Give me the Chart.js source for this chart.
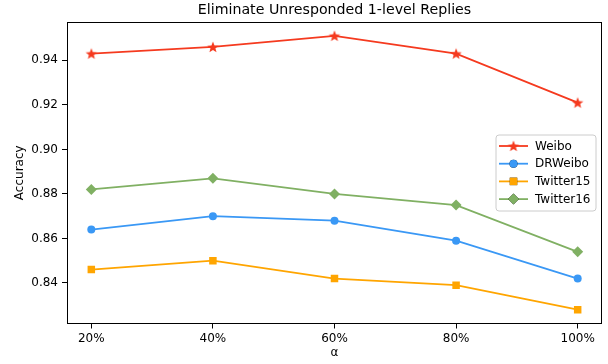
<!DOCTYPE html>
<html>
<head>
<meta charset="utf-8">
<script src="https://cdn.jsdelivr.net/npm/chart.js@4.4.1/dist/chart.umd.min.js"></script>
<style>
html,body{margin:0;padding:0;background:#fff;}
#wrap{width:608px;height:364px;position:relative;}
</style>
</head>
<body>
<div id="wrap"><canvas id="c" width="608" height="364"></canvas></div>
<script>
// ---- data ----
const categories = ['20%', '40%', '60%', '80%', '100%'];
const yTicks = [0.84, 0.86, 0.88, 0.90, 0.92, 0.94];
const weibo     = [0.943, 0.946, 0.951, 0.943, 0.921];
const drweibo   = [0.864, 0.870, 0.868, 0.859, 0.842];
const twitter15 = [0.846, 0.850, 0.842, 0.839, 0.828];
const twitter16 = [0.882, 0.887, 0.880, 0.875, 0.854];
const seriesNames = ['Weibo', 'DRWeibo', 'Twitter15', 'Twitter16'];

// ---- styling ----
const FONT = 'DejaVu Sans';
const colors = ['#f53a1f', '#3a98f5', '#ffa500', '#80b063'];

function makeStar(color) {
  const s = 14, c = document.createElement('canvas');
  c.width = s; c.height = s;
  const g = c.getContext('2d');
  const cx = s / 2, cy = s / 2 + 0.5, R = 6, r = 2.6;
  g.beginPath();
  for (let i = 0; i < 10; i++) {
    const a = -Math.PI / 2 + i * Math.PI / 5;
    const rad = i % 2 === 0 ? R : r;
    const x = cx + rad * Math.cos(a), y = cy + rad * Math.sin(a);
    i === 0 ? g.moveTo(x, y) : g.lineTo(x, y);
  }
  g.closePath();
  g.fillStyle = color; g.fill();
  return c;
}
const starImg = makeStar(colors[0]);
const pointStyles = [starImg, 'circle', 'rect', 'rectRot'];
const pointRadii = [6, 4, 5.3, 5.5];

const allSeries = [weibo, drweibo, twitter15, twitter16];
const datasets = allSeries.map((vals, k) => ({
  label: seriesNames[k],
  data: vals.map((v, i) => ({x: i, y: v})),
  borderColor: colors[k],
  backgroundColor: colors[k],
  borderWidth: 1.8,
  pointStyle: pointStyles[k],
  pointRadius: pointRadii[k],
  pointBorderWidth: 0,
  pointBackgroundColor: colors[k],
  pointBorderColor: colors[k],
  fill: false,
  tension: 0
}));

const ymin = 0.8218, ymax = 0.9572;

const framePlugin = {
  id: 'frame',
  afterDraw(chart) {
    const {ctx, chartArea: a} = chart;
    ctx.save();
    ctx.strokeStyle = '#000';
    ctx.lineWidth = 1;
    ctx.strokeRect(Math.round(a.left) + 0.5, Math.round(a.top) + 0.5,
                   Math.round(a.right - a.left) - 1, Math.round(a.bottom - a.top));
    ctx.restore();

    // legend
    const bx = a.right - 106, by = 135, bw = 100, bh = 76;
    ctx.save();
    ctx.beginPath();
    const rr = 3;
    ctx.moveTo(bx + rr, by);
    ctx.arcTo(bx + bw, by, bx + bw, by + bh, rr);
    ctx.arcTo(bx + bw, by + bh, bx, by + bh, rr);
    ctx.arcTo(bx, by + bh, bx, by, rr);
    ctx.arcTo(bx, by, bx + bw, by, rr);
    ctx.closePath();
    ctx.fillStyle = 'rgba(255,255,255,0.8)';
    ctx.fill();
    ctx.strokeStyle = '#cccccc';
    ctx.lineWidth = 1;
    ctx.stroke();
    ctx.font = '12px "' + FONT + '"';
    ctx.textBaseline = 'middle';
    ctx.textAlign = 'left';
    chart.data.datasets.forEach((ds, k) => {
      const y = by + 11 + k * 17.7;
      ctx.strokeStyle = ds.borderColor;
      ctx.lineWidth = 1.8;
      ctx.beginPath();
      ctx.moveTo(bx + 3, y);
      ctx.lineTo(bx + 32, y);
      ctx.stroke();
      Chart.helpers.drawPoint(ctx, {
        pointStyle: ds.pointStyle, radius: ds.pointRadius, rotation: 0, borderWidth: 0
      }, bx + 17.5, y);
      ctx.fillStyle = ds.borderColor;
      ctx.fill();
      ctx.fillStyle = '#000';
      ctx.fillText(ds.label, bx + 39, y + 0.5);
    });
    ctx.restore();
  }
};

new Chart(document.getElementById('c'), {
  type: 'line',
  data: {datasets},
  options: {
    responsive: false,
    animation: false,
    devicePixelRatio: 1,
    layout: {padding: {left: 0, right: 1, top: 1, bottom: 0}},
    plugins: {
      legend: {display: false},
      tooltip: {enabled: false},
      title: {
        display: true,
        fullSize: false,
        text: 'Eliminate Unresponded 1-level Replies',
        color: '#000',
        font: {family: FONT, size: 14.2, weight: 'normal'},
        padding: {top: 1, bottom: 3}
      }
    },
    scales: {
      x: {
        type: 'linear',
        min: -0.2, max: 4.2,
        afterFit(s) { s.height = 40.5; },
        afterBuildTicks(s) { s.ticks = categories.map((c, i) => ({value: i})); },
        ticks: {
          callback: (v) => categories[v],
          color: '#000',
          font: {family: FONT, size: 12},
          padding: 3,
          maxRotation: 0,
          autoSkip: false
        },
        grid: {display: true, drawOnChartArea: false, drawTicks: true, tickLength: 5, color: '#000', tickColor: '#000'},
        border: {display: false},
        title: {display: true, text: 'α', color: '#000', font: {family: FONT, size: 12}, padding: {top: 0, bottom: 4}}
      },
      y: {
        type: 'linear',
        min: ymin, max: ymax,
        afterFit(s) { s.width = 67; },
        afterBuildTicks(s) { s.ticks = yTicks.map(v => ({value: v})); },
        ticks: {
          callback: (v) => v.toFixed(2),
          color: '#000',
          font: {family: FONT, size: 12},
          padding: 4
        },
        grid: {display: true, drawOnChartArea: false, drawTicks: true, tickLength: 5, color: '#000', tickColor: '#000'},
        border: {display: false},
        title: {display: true, text: 'Accuracy', color: '#000', font: {family: FONT, size: 12}, padding: {top: 13, bottom: 0}}
      }
    }
  },
  plugins: [framePlugin]
});
</script>
</body>
</html>
